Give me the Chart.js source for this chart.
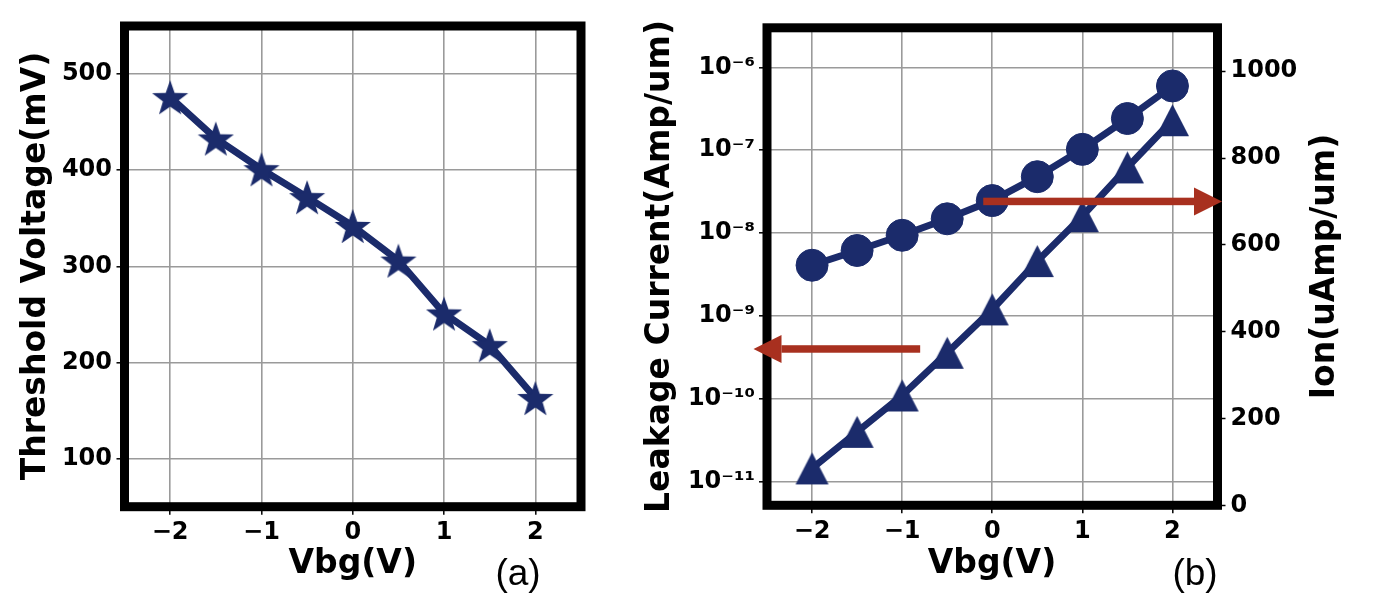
<!DOCTYPE html>
<html>
<head>
<meta charset="utf-8">
<script src="https://cdn.jsdelivr.net/npm/chart.js@4.4.1/dist/chart.umd.min.js"></script>
<style>
  body { margin: 0; background: #fff; width: 1378px; height: 604px; overflow: hidden; position: relative; }
  .panel { position: absolute; top: 0; height: 604px; }
  #panelA { left: 0; width: 640px; }
  #panelB { left: 640px; width: 738px; }
</style>
</head>
<body>
<div class="panel" id="panelA"><canvas id="vthChart"></canvas></div>
<div class="panel" id="panelB"><canvas id="leakChart"></canvas></div>
<script>
// data
const vbg = [-2, -1.5, -1, -0.5, 0, 0.5, 1, 1.5, 2];
const thresholdVoltage = [476, 433, 401, 372, 342, 306, 251, 218, 163];       // mV
const leakageCurrent = [1.45e-11, 4.0e-11, 1.1e-10, 3.6e-10, 1.2e-9, 4.6e-9, 1.6e-8, 6.2e-8, 2.3e-7]; // A/um
const ionCurrent = [553, 587, 622, 660, 702, 757, 820, 891, 966];              // uA/um

const vbgTicks = [-2, -1, 0, 1, 2];
const vthTicks = [100, 200, 300, 400, 500];
const leakTicks = [1e-11, 1e-10, 1e-9, 1e-8, 1e-7, 1e-6];
const ionTicks = [0, 200, 400, 600, 800, 1000];

// arrows: [x tail, x head, y] in data units of the axis they point at
const leakArrow = [-0.8, -2.65, 4e-10];
const ionArrow = [-0.1, 2.55, 700];

const NAVY = '#1b2b6b';
const RED = '#a8301f';
const GRID = '#9a9a9a';
const tickFont = { family: 'DejaVu Sans', weight: 'bold', size: 24 };
const titleFont = 'bold 33px "DejaVu Sans"';
const tagFont = '37px "Liberation Sans"';

const sup = { '-': '\u207b', '0': '\u2070', '1': '\u00b9', '2': '\u00b2', '3': '\u00b3',
  '4': '\u2074', '5': '\u2075', '6': '\u2076', '7': '\u2077', '8': '\u2078', '9': '\u2079' };
const fmtNum = v => (v < 0 ? '\u2212' : '') + Math.abs(v);
const fmtPow = v => '10' + String(Math.round(Math.log10(v))).split('').map(c => sup[c]).join('');

// marker images
function starMarker(R) {
  const c = document.createElement('canvas');
  const s = Math.ceil(R * 2 + 2);
  c.width = s; c.height = s;
  const g = c.getContext('2d');
  const r = R * 0.4;
  g.beginPath();
  for (let i = 0; i < 10; i++) {
    const a = -Math.PI / 2 + i * Math.PI / 5;
    const rr = i % 2 ? r : R;
    g.lineTo(s / 2 + rr * Math.cos(a), s / 2 + rr * Math.sin(a) + R * 0.1);
  }
  g.closePath();
  g.fillStyle = NAVY;
  g.fill();
  return c;
}
function triMarker(w, h) {
  const c = document.createElement('canvas');
  c.width = w + 2; c.height = h + 2;
  const g = c.getContext('2d');
  g.beginPath();
  g.moveTo(c.width / 2, 1);
  g.lineTo(c.width - 1, h + 1);
  g.lineTo(1, h + 1);
  g.closePath();
  g.fillStyle = NAVY;
  g.fill();
  return c;
}

const framePlugin = {
  id: 'frame',
  afterDatasetsDraw(chart) {
    const { ctx, chartArea: a } = chart;
    ctx.save();
    ctx.lineWidth = 9;
    ctx.strokeStyle = '#000';
    ctx.strokeRect(a.left, a.top, a.right - a.left, a.bottom - a.top);
    ctx.restore();
  }
};

function drawLabel(ctx, text, x, y, font, rotate) {
  ctx.save();
  ctx.translate(x, y);
  if (rotate) ctx.rotate(-Math.PI / 2);
  ctx.font = font;
  ctx.fillStyle = '#000';
  ctx.textAlign = 'center';
  ctx.textBaseline = 'alphabetic';
  ctx.fillText(text, 0, 0);
  ctx.restore();
}

function drawArrow(ctx, x0, x1, y) {
  const dir = Math.sign(x1 - x0);
  const headLen = 28, headHalf = 14, shaft = 7.5;
  ctx.save();
  ctx.fillStyle = RED;
  ctx.fillRect(Math.min(x0, x1 - dir * headLen), y - shaft / 2, Math.abs(x1 - dir * headLen - x0), shaft);
  ctx.beginPath();
  ctx.moveTo(x1, y);
  ctx.lineTo(x1 - dir * headLen, y - headHalf);
  ctx.lineTo(x1 - dir * headLen, y + headHalf);
  ctx.closePath();
  ctx.fill();
  ctx.restore();
}

function xScale(height) {
  return {
    type: 'linear', min: -2.5, max: 2.5,
    afterBuildTicks: s => { s.ticks = vbgTicks.map(v => ({ value: v })); },
    afterFit: s => { s.height = height; },
    ticks: { font: tickFont, color: '#000', padding: 4, maxRotation: 0, callback: fmtNum },
    grid: { color: GRID, lineWidth: 1.6, tickLength: 8, tickColor: '#000', tickWidth: 1.5 },
    border: { display: false }
  };
}

Chart.defaults.font.family = 'DejaVu Sans';

new Chart(document.getElementById('vthChart'), {
  type: 'line',
  data: {
    datasets: [{
      label: 'Threshold Voltage',
      data: vbg.map((x, i) => ({ x, y: thresholdVoltage[i] })),
      borderColor: NAVY,
      borderWidth: 7,
      backgroundColor: NAVY,
      pointStyle: starMarker(19),
      pointRadius: 18,
      tension: 0,
      clip: false
    }]
  },
  options: {
    responsive: true,
    maintainAspectRatio: false,
    animation: false,
    layout: { padding: { top: 26, right: 59, left: 0, bottom: 0 } },
    plugins: { legend: { display: false }, tooltip: { enabled: false } },
    scales: {
      x: xScale(97.3),
      y: {
        type: 'linear', min: 50, max: 550,
        afterBuildTicks: s => { s.ticks = vthTicks.map(v => ({ value: v })); },
        afterFit: s => { s.width = 124.5; },
        ticks: { font: tickFont, color: '#000', padding: 4.5, callback: v => String(v) },
        grid: { color: GRID, lineWidth: 1.6, tickLength: 8, tickColor: '#000', tickWidth: 1.5 },
        border: { display: false }
      }
    }
  },
  plugins: [framePlugin, {
    id: 'textA',
    afterDraw(chart) {
      const ctx = chart.ctx;
      drawLabel(ctx, 'Threshold Voltage(mV)', 45, 266, titleFont, true);
      drawLabel(ctx, 'Vbg(V)', 352.75, 573, titleFont, false);
      drawLabel(ctx, '(a)', 518, 585, tagFont, false);
    }
  }]
});

new Chart(document.getElementById('leakChart'), {
  type: 'line',
  data: {
    datasets: [{
      label: 'Ion',
      yAxisID: 'y2',
      data: vbg.map((x, i) => ({ x, y: ionCurrent[i] })),
      borderColor: NAVY,
      borderWidth: 7,
      backgroundColor: NAVY,
      pointStyle: 'circle',
      pointRadius: 16,
      pointBorderWidth: 1,
      tension: 0,
      clip: false
    }, {
      label: 'Leakage',
      yAxisID: 'y',
      data: vbg.map((x, i) => ({ x, y: leakageCurrent[i] })),
      borderColor: NAVY,
      borderWidth: 7,
      backgroundColor: NAVY,
      pointStyle: triMarker(33, 32),
      pointRadius: 16,
      tension: 0,
      clip: false
    }]
  },
  options: {
    responsive: true,
    maintainAspectRatio: false,
    animation: false,
    layout: { padding: { top: 27.8, right: 0, left: 0, bottom: 0 } },
    plugins: { legend: { display: false }, tooltip: { enabled: false } },
    scales: {
      x: xScale(98.7),
      y: {
        type: 'logarithmic', position: 'left', min: 5.2e-12, max: 3e-6,
        afterBuildTicks: s => { s.ticks = leakTicks.map(v => ({ value: v })); },
        afterFit: s => { s.width = 127; },
        ticks: { font: tickFont, color: '#000', padding: 4, callback: fmtPow },
        grid: { color: GRID, lineWidth: 1.6, tickLength: 8, tickColor: '#000', tickWidth: 1.5 },
        border: { display: false }
      },
      y2: {
        type: 'linear', position: 'right', min: 0, max: 1100,
        afterBuildTicks: s => { s.ticks = ionTicks.map(v => ({ value: v })); },
        afterFit: s => { s.width = 160.5; },
        ticks: { font: tickFont, color: '#000', padding: 5, callback: v => String(v) },
        grid: { drawOnChartArea: false, tickLength: 8, tickColor: '#000', tickWidth: 1.5 },
        border: { display: false }
      }
    }
  },
  plugins: [framePlugin, {
    id: 'textB',
    afterDraw(chart) {
      const ctx = chart.ctx;
      const { x, y, y2 } = chart.scales;
      drawArrow(ctx, x.getPixelForValue(leakArrow[0]), x.getPixelForValue(leakArrow[1]), y.getPixelForValue(leakArrow[2]));
      drawArrow(ctx, x.getPixelForValue(ionArrow[0]), x.getPixelForValue(ionArrow[1]), y2.getPixelForValue(ionArrow[2]));
      drawLabel(ctx, 'Leakage Current(Amp/um)', 29, 266.5, titleFont, true);
      drawLabel(ctx, 'Ion(uAmp/um)', 694, 266.5, titleFont, true);
      drawLabel(ctx, 'Vbg(V)', 352, 573, titleFont, false);
      drawLabel(ctx, '(b)', 555, 585, tagFont, false);
    }
  }]
});
</script>
</body>
</html>
